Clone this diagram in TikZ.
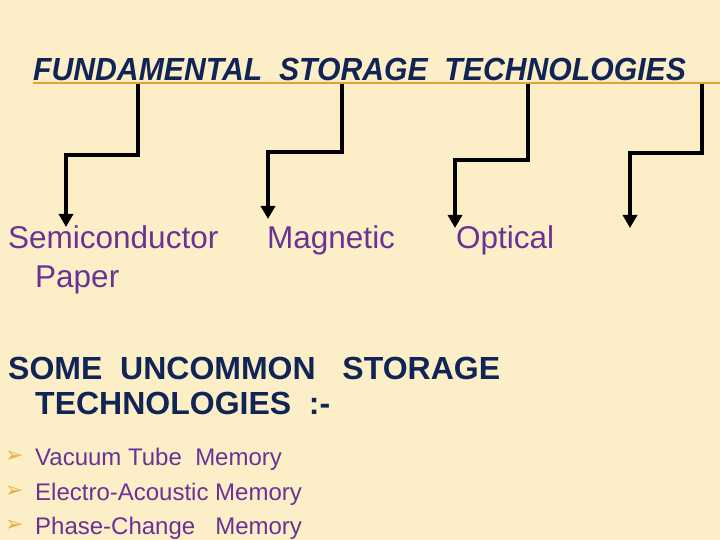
\documentclass[tikz,border=0pt]{standalone}
\usepackage{fontspec}
\setmainfont{Liberation Sans}
\newfontfamily\symfont{DejaVu Sans}
\usetikzlibrary{arrows.meta}
\definecolor{cream}{RGB}{252,239,200}
\definecolor{navy}{RGB}{16,36,86}
\definecolor{plum}{RGB}{106,50,148}
\definecolor{amber}{RGB}{230,160,55}
\definecolor{bulletc}{RGB}{238,172,70}
\tikzset{
  txt/.style={anchor=base west,inner sep=0pt,text=plum,font=\fontsize{31.5}{38}\selectfont},
  head/.style={anchor=base west,inner sep=0pt,text=navy,font=\fontsize{32}{38}\selectfont\bfseries},
  item/.style={anchor=base west,inner sep=0pt,text=plum,font=\fontsize{24}{28}\selectfont},
  bul/.style={inner sep=0pt,text=bulletc,font=\symfont\fontsize{22}{24}\selectfont},
  link/.style={draw=black,line width=3.6pt,line join=miter,-{Triangle[width=14pt,length=13pt]}}
}
\begin{document}
\begin{tikzpicture}[x=1pt,y=-1pt]
   \fill[cream] (0,0) rectangle (720,540);
   \useasboundingbox (0,0) rectangle (720,540);

   % title and its rule
   \node[anchor=base west,inner sep=0pt,text=navy,font=\fontsize{32}{38}\selectfont\bfseries\itshape] (title) at (33,81) {\scalebox{0.943}[1]{FUNDAMENTAL\ \ STORAGE\ \ TECHNOLOGIES}};
   \coordinate (r_0) at (33,83.5);
   \coordinate (r_1) at (720,83.5);
   \draw[amber,line width=2pt] (r_0) -- (r_1);

   % the four kinds
   \node[txt] (semi)  at (8,248)   {Semiconductor};
   \node[txt] (paper) at (35,287)  {Paper};
   \node[txt] (magn)  at (267,248) {Magnetic};
   \node[txt] (opt)   at (456,248) {Optical};

   \coordinate (t_1) at (138,84);  \coordinate (k_1) at (66,155);  \coordinate (a_1) at (66,227);
   \coordinate (t_2) at (342,84);  \coordinate (k_2) at (268,152); \coordinate (a_2) at (268,219);
   \coordinate (t_3) at (528,84);  \coordinate (k_3) at (455,160); \coordinate (a_3) at (455,228);
   \coordinate (t_4) at (702,84);  \coordinate (k_4) at (630,153); \coordinate (a_4) at (630,228);
   \foreach \i in {1,...,4}
     \draw[link] (t_\i) |- (k_\i) -- (a_\i);

   % uncommon ones
   \node[head] (some) at (8,379)  {SOME\ \ UNCOMMON\ \ \ STORAGE};
   \node[head] (tech) at (35,414) {TECHNOLOGIES\ \ :-};

   \node[bul]  (b_1) at (14,457) {➢};
   \node[item] (vac) at (35,465) {Vacuum Tube\ \ Memory};
   \node[bul]  (b_2) at (14,492) {➢};
   \node[item] (ele) at (35,500) {Electro-Acoustic Memory};
   \node[bul]  (b_3) at (14,526) {➢};
   \node[item] (pha) at (35,534) {Phase-Change\ \ \ Memory};

\end{tikzpicture}
\end{document}
